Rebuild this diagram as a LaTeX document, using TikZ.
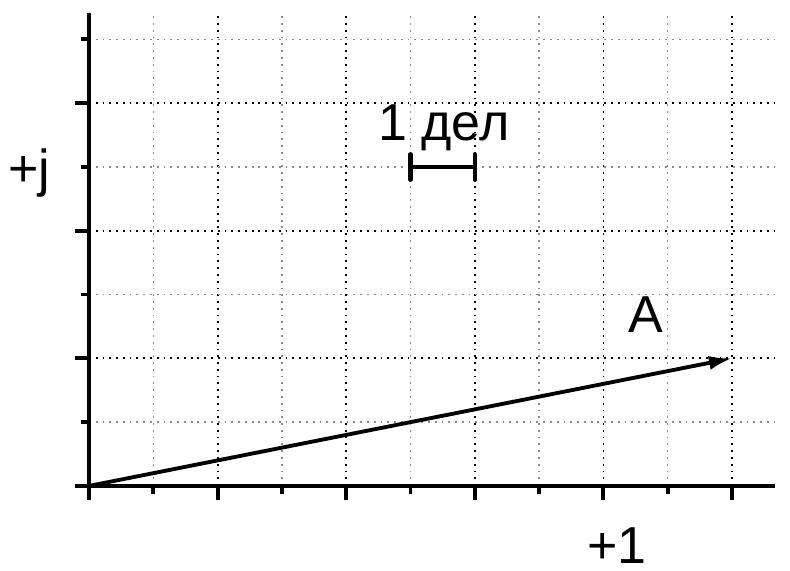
\documentclass[tikz,border=0pt]{standalone}
\usepackage{fontspec}
\setmainfont{Liberation Sans}
\usetikzlibrary{arrows.meta}

\begin{document}
\begin{tikzpicture}[
   x=1cm,y=0.992cm,
   axis/.style={line width=1.7pt},
   majgrid/.style={black,line width=0.8pt,dash pattern=on 0.8pt off 2.2pt},
   mingrid/.style={black!45,line width=0.6pt,dash pattern=on 0.8pt off 2.2pt},
   vec/.style={-{Latex[length=3.6mm,width=2.2mm]},line width=1.7pt},
   lbl/.style={font=\fontsize{23}{26}\selectfont,inner sep=0pt,anchor=base}
 ]
  \useasboundingbox (-1.384,-1.332) rectangle (10.902,7.618);
  % grid
  \foreach \x in {1,3,5,7,9} \draw[mingrid] (\x,0) -- (\x,7.41);
  \foreach \x in {2,4,6,8,10} \draw[majgrid] (\x,0) -- (\x,7.41);
  \foreach \y in {1,3,5,7} \draw[mingrid] (0,\y) -- (10.67,\y);
  \foreach \y in {2,4,6} \draw[majgrid] (0,\y) -- (10.67,\y);
  % axes and ticks
  \draw[axis] (-0.22,0) -- (10.67,0);
  \draw[axis] (0,-0.22) -- (0,7.41);
  \foreach \x in {1,3,5,7,9} \draw[axis] (\x,0) -- (\x,-0.13);
  \foreach \x in {2,4,6,8,10} \draw[axis] (\x,0) -- (\x,-0.22);
  \foreach \y in {1,3,5,7} \draw[axis] (0,\y) -- (-0.13,\y);
  \foreach \y in {2,4,6} \draw[axis] (0,\y) -- (-0.22,\y);
  % labels
  \node[lbl] (im) at (-0.93,4.70) {+j};
  \node[lbl] (re) at (8.21,-1.21) {+1};
  \node[lbl] (aname) at (8.66,2.41) {A};
  \node[lbl] (unit) at (5.52,5.41) {1 дел};
  % scale bar
  \coordinate (ua) at (5,5);
  \coordinate (ub) at (6,5);
  \draw[line width=1.8pt,line cap=round] (ua) -- (ub);
  \draw[line width=1.8pt,line cap=round] ([yshift=-0.2cm]ua) -- ([yshift=0.2cm]ua);
  \draw[line width=1.8pt,line cap=round] ([yshift=-0.2cm]ub) -- ([yshift=0.2cm]ub);
  % vector
  \coordinate (O) at (0,0);
  \coordinate (tip) at (10,2);
  \draw[vec] (O) -- (tip);
 \end{tikzpicture}
\end{document}
